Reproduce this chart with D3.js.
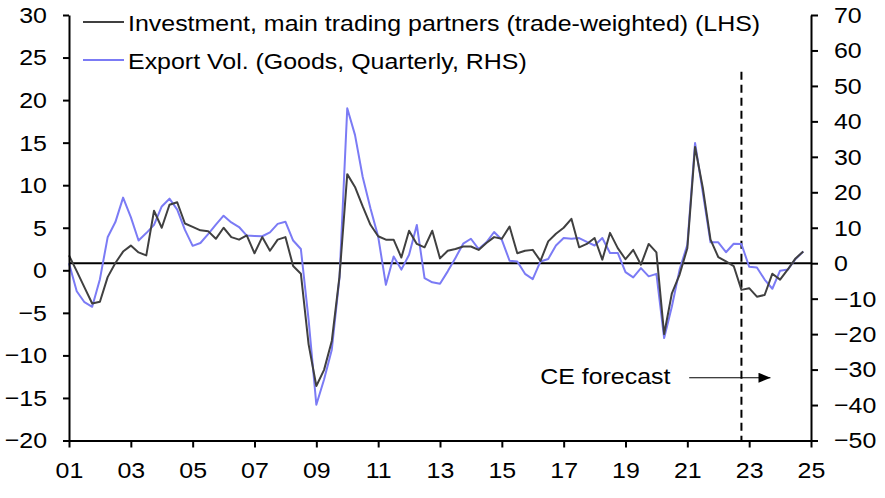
<!DOCTYPE html>
<html>
<head>
<meta charset="utf-8">
<script src="https://cdn.jsdelivr.net/npm/d3@7"></script>
<style>
  html, body { margin: 0; padding: 0; background: #fff; }
  svg text { font-family: "Liberation Sans", Arial, sans-serif; fill: #000; }
</style>
</head>
<body>
<svg id="chart" width="885" height="498"></svg>
<script>
// ---- Data (quarterly, 2001 Q1 .. 2024 Q4) ----
const startYear = 2001;
const investment = [
  1.75, -0.1, -2.0, -3.9, -3.7, -0.8, 0.85, 2.2, 2.9, 2.1, 1.75, 7.0,
  5.0, 7.7, 8.0, 5.5, 5.1, 4.7, 4.6, 3.7, 5.0, 3.9, 3.6, 4.1,
  2.0, 3.9, 2.3, 3.6, 3.9, 0.5, -0.4, -8.7, -13.6, -11.7, -8.3, -0.7,
  11.3, 9.8, 7.5, 5.35, 4.0, 3.6, 3.6, 1.5, 4.65, 3.1, 2.7, 4.65,
  1.4, 2.3, 2.5, 2.8, 2.8, 2.4, 3.2, 3.9, 3.7, 5.15, 2.0, 2.3,
  2.4, 1.1, 3.4, 4.3, 5.0, 6.05, 2.7, 3.1, 3.8, 1.25, 4.4, 2.6,
  1.3, 2.4, 0.66, 3.1, 2.1, -7.5, -2.7, -0.5, 2.6, 14.5, 9.7, 3.6,
  1.56, 1.05, 0.5, -2.3, -2.1, -3.1, -2.9, -0.4, -1.1, 0.1, 1.4, 2.2
];
const exportVol = [
  0.0, -7.9, -11.0, -12.3, -4.5, 7.3, 11.6, 18.5, 13.0, 6.4, 8.5, 10.8,
  16.0, 18.2, 15.1, 9.4, 4.9, 5.7, 8.2, 10.9, 13.4, 11.5, 10.2, 7.8,
  7.7, 7.6, 8.7, 11.1, 11.7, 6.4, 4.0, -16.0, -39.9, -32.8, -24.4, -4.0,
  43.7, 36.2, 24.3, 15.5, 7.5, -6.1, 1.9, -1.8, 2.4, 10.8, -4.2, -5.4,
  -5.8, -2.3, 1.5, 5.5, 6.9, 4.0, 5.9, 8.8, 6.6, 0.7, 0.5, -3.0,
  -4.5, 0.5, 1.2, 5.0, 7.1, 6.9, 7.1, 6.0, 5.0, 7.1, 2.9, 2.9,
  -2.5, -4.0, -1.4, -3.7, -3.0, -21.1, -12.2, -1.8, 5.2, 33.9, 20.0, 5.9,
  5.9, 3.1, 5.5, 5.4, -1.0, -1.2, -4.6, -7.2, -2.1, -1.8, 1.2, 3.3
];
const xTickYears = [2001, 2003, 2005, 2007, 2009, 2011, 2013, 2015, 2017, 2019, 2021, 2023, 2025];
const leftTicks = [-20, -15, -10, -5, 0, 5, 10, 15, 20, 25, 30];
const rightTicks = [-50, -40, -30, -20, -10, 0, 10, 20, 30, 40, 50, 60, 70];
const seriesNames = [
  "Investment, main trading partners (trade-weighted) (LHS)",
  "Export Vol. (Goods, Quarterly, RHS)"
];
const forecastStart = 2022.75;
const forecastLabel = "CE forecast";

// ---- Layout ----
const mLeft = 69, mRight = 811, mTop = 15, mBottom = 440.5;
const colInv = "#404040", colExp = "#7b7bf5";
const fs = 23;
const stretch = 1.085; // reference glyphs are slightly wider than tall

const svg = d3.select("#chart");
const x = d3.scaleLinear().domain([2001, 2025]).range([mLeft, mRight]);
const yL = d3.scaleLinear().domain([-20, 30]).range([mBottom, mTop]);
const yR = d3.scaleLinear().domain([-50, 70]).range([mBottom, mTop]);
const date = i => startYear + i * 0.25;

// zero line (RHS 0)
svg.append("line")
  .attr("x1", mLeft).attr("x2", mRight)
  .attr("y1", yR(0)).attr("y2", yR(0))
  .attr("stroke", "#000").attr("stroke-width", 2);

// forecast dashed line
svg.append("line")
  .attr("x1", x(forecastStart)).attr("x2", x(forecastStart))
  .attr("y1", yR(54)).attr("y2", mBottom)
  .attr("stroke", "#000").attr("stroke-width", 2)
  .attr("stroke-dasharray", "8,5");

// series
const lineL = d3.line().x((d, i) => x(date(i))).y(d => yL(d));
const lineR = d3.line().x((d, i) => x(date(i))).y(d => yR(d));
svg.append("path").datum(exportVol).attr("d", lineR)
  .attr("fill", "none").attr("stroke", colExp).attr("stroke-width", 2)
  .attr("stroke-linejoin", "round");
svg.append("path").datum(investment).attr("d", lineL)
  .attr("fill", "none").attr("stroke", colInv).attr("stroke-width", 2)
  .attr("stroke-linejoin", "round");

// axes
function styleAxis(g) {
  g.select(".domain").attr("stroke", "#000").attr("stroke-width", 2);
  g.selectAll(".tick line").attr("stroke", "#000").attr("stroke-width", 2);
  g.selectAll(".tick text").attr("font-size", fs).attr("font-family", "Liberation Sans, Arial, sans-serif").attr("fill", "#000");
}
const gx = svg.append("g").attr("transform", `translate(0,${mBottom})`)
  .call(d3.axisBottom(x).tickValues(xTickYears).tickSizeInner(7).tickSizeOuter(0).tickPadding(14)
    .tickFormat(d => String(d % 100).padStart(2, "0")));
styleAxis(gx);
const gl = svg.append("g").attr("transform", `translate(${mLeft},0)`)
  .call(d3.axisLeft(yL).tickValues(leftTicks).tickSizeInner(6).tickSizeOuter(0).tickPadding(16));
styleAxis(gl);
const gr = svg.append("g").attr("transform", `translate(${mRight},0)`)
  .call(d3.axisRight(yR).tickValues(rightTicks).tickSizeInner(7).tickSizeOuter(0).tickPadding(16));
styleAxis(gr);

// legend
const legend = svg.append("g");
[[colInv, 22, 31], [colExp, 60, 68.5]].forEach(([c, ly, ty], k) => {
  legend.append("line").attr("x1", 83).attr("x2", 124).attr("y1", ly).attr("y2", ly)
    .attr("stroke", c).attr("stroke-width", 2);
  legend.append("text").attr("x", 128).attr("y", ty).attr("font-size", fs).text(seriesNames[k]);
});

// forecast annotation
svg.append("text").attr("x", x(2016.24)).attr("y", 383.5).attr("font-size", fs).text(forecastLabel);
svg.append("defs").append("marker").attr("id", "arr")
  .attr("viewBox", "0 0 12 10").attr("refX", 12).attr("refY", 5)
  .attr("markerWidth", 12).attr("markerHeight", 10).attr("markerUnits", "userSpaceOnUse")
  .attr("orient", "auto")
  .append("path").attr("d", "M0,0 L12,5 L0,10 Z").attr("fill", "#000");
svg.append("line")
  .attr("x1", x(2021.06)).attr("x2", x(2023.69))
  .attr("y1", yR(-32.3)).attr("y2", yR(-32.3))
  .attr("stroke", "#000").attr("stroke-width", 1.2)
  .attr("marker-end", "url(#arr)");

// widen every text horizontally about its anchor point
svg.selectAll("text").each(function () {
  const t = d3.select(this);
  const tx = +(t.attr("x") || 0), ty = +(t.attr("y") || 0);
  t.attr("x", 0).attr("y", 0)
   .attr("transform", `translate(${tx},${ty}) scale(${stretch},1)`);
});
</script>
</body>
</html>
